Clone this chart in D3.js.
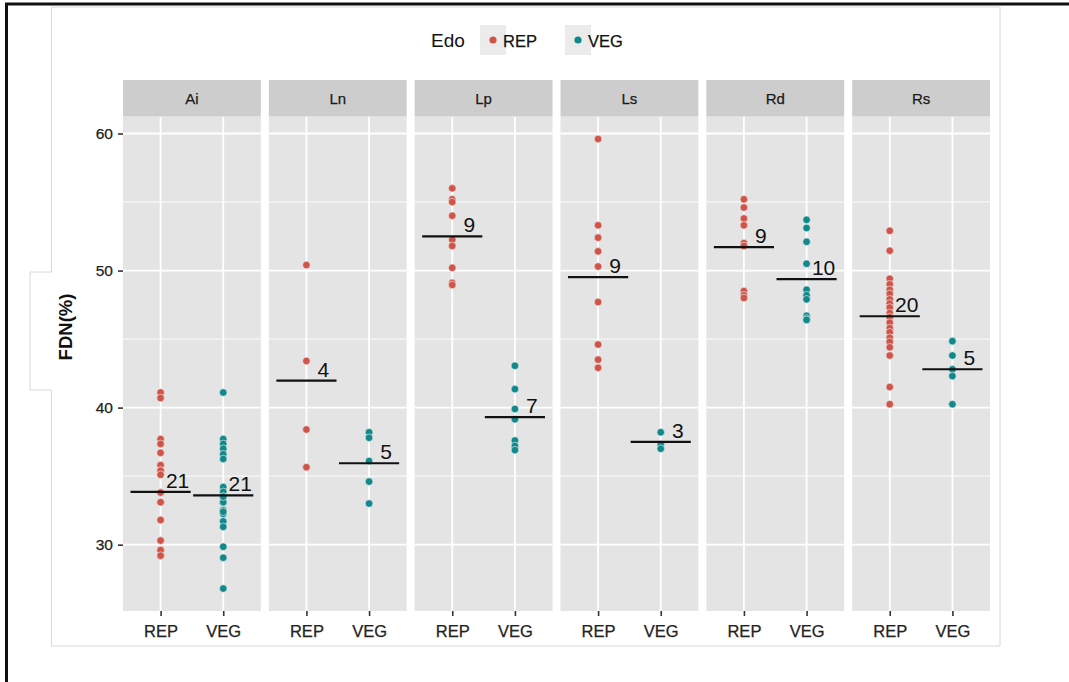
<!DOCTYPE html>
<html>
<head>
<meta charset="utf-8">
<script src="https://cdn.jsdelivr.net/npm/d3@7"></script>
<style>
body { margin: 0; background: #fff; }
svg { display: block; font-family: "Liberation Sans", Arial, sans-serif; }
</style>
</head>
<body>
<svg width="1069" height="682"></svg>
<script>
var facets = ["Ai", "Ln", "Lp", "Ls", "Rd", "Rs"];
var groups = ["REP", "VEG"];
var yTicks = [30, 40, 50, 60];
var yMinor = [35, 45, 55];

// FDN(%) per species and state
var aiREP = [41.1, 40.7, 37.7, 37.35, 36.7, 35.8, 35.4, 33.8, 33.1, 31.8, 30.3, 29.6, 29.2,
             33.8, 33.1, 31.8, 30.3, 29.6, 29.2, 35.4, 35.1];
var aiVEG = [41.1, 37.7, 37.35, 37.0, 36.6, 36.25, 34.2, 33.85, 33.5, 33.1, 32.5, 32.25, 31.7,
             31.3, 29.85, 29.05, 26.8, 33.1, 32.5, 33.5, 32.4];
var lnREP = [50.4, 43.4, 38.4, 35.65];
var lnVEG = [38.2, 37.8, 36.1, 34.6, 33.0];
var lpREP = [56.0, 55.2, 55.0, 54.0, 52.25, 51.8, 50.2, 49.1, 48.95];
var lpVEG = [43.05, 41.35, 39.9, 39.15, 37.6, 37.2, 36.9];
var lsREP = [59.6, 53.3, 52.4, 51.4, 50.3, 47.7, 44.6, 43.5, 42.9];
var lsVEG = [38.2, 37.3, 37.0];
var rdREP = [55.2, 54.6, 53.8, 53.3, 52.0, 51.8, 48.5, 48.2, 48.0];
var rdVEG = [53.7, 53.1, 52.1, 50.5, 48.6, 48.2, 47.9, 46.7, 46.5, 46.4];
var rsREP = [52.9, 51.45, 49.4, 49.0, 48.6, 48.3, 47.9, 47.6, 47.3, 46.9, 46.6, 46.2, 45.8,
             45.5, 45.1, 44.8, 44.4, 43.8, 41.5, 40.25];
var rsVEG = [44.85, 43.8, 42.8, 42.3, 40.25];

var colors = {REP: "#cf5449", VEG: "#11898b"};

var table = {
    Ai: [aiREP, aiVEG], Ln: [lnREP, lnVEG], Lp: [lpREP, lpVEG],
    Ls: [lsREP, lsVEG], Rd: [rdREP, rdVEG], Rs: [rsREP, rsVEG]
};

var rows = [];
facets.forEach(function(f) {
    groups.forEach(function(g, i) {
        table[f][i].forEach(function(v) {
            rows.push({facet: f, group: g, value: v});
        });
    });
});

var svg = d3.select("svg"),
    width = +svg.attr("width"),
    height = +svg.attr("height");

var panelTop = 116.5, panelBottom = 611, stripTop = 80;

// the scanned figure has slightly heavy type, thicken it a little
function heavy(sel, c) {
    sel.attr("fill", c).attr("stroke", c).attr("stroke-width", 0.25);
}

var fx = d3.scaleBand()
    .domain(facets)
    .range([123, 990])
    .paddingInner(48 / 875);

var x = d3.scalePoint()
    .domain(groups)
    .range([0, fx.bandwidth()])
    .padding(0.6);

var ext = d3.extent(rows, function(d) { return d.value; });
var pad = (ext[1] - ext[0]) * 0.05;
var y = d3.scaleLinear()
    .domain([ext[0] - pad, ext[1] + pad])
    .range([panelBottom, panelTop]);

svg.append("rect").attr("width", width).attr("height", height).attr("fill", "#fff");

// outer frame (top and left only)
svg.append("line").attr("x1", 5).attr("x2", width).attr("y1", 4).attr("y2", 4)
    .attr("stroke", "#111").attr("stroke-width", 3);
svg.append("line").attr("x1", 6.5).attr("x2", 6.5).attr("y1", 3).attr("y2", height)
    .attr("stroke", "#111").attr("stroke-width", 3);

// plot background box with the little tab for the y title
svg.append("path")
    .attr("d", "M51.5,272 V7 H1000 V646 H51.5 V390 H30 V272 Z")
    .attr("fill", "#fff")
    .attr("stroke", "#d8d8d8")
    .attr("stroke-width", 1);

// legend
var leg = svg.append("g");
leg.append("text").attr("x", 431).attr("y", 47).attr("font-size", 19).attr("fill", "#111").text("Edo");
var legX = {REP: 493, VEG: 578};
groups.forEach(function(g) {
    leg.append("rect").attr("x", legX[g] - 13).attr("y", 25).attr("width", 26).attr("height", 30)
        .attr("fill", "#ebebeb");
    leg.append("circle").attr("cx", legX[g]).attr("cy", 40).attr("r", 3.6).attr("fill", colors[g]);
    leg.append("text").attr("x", legX[g] + 10).attr("y", 46.5).attr("font-size", 16.5)
        .call(heavy, "#111").text(g);
});

var panel = svg.selectAll("g.panel")
    .data(facets)
    .enter().append("g")
    .attr("class", "panel")
    .attr("transform", function(d) { return "translate(" + fx(d) + ",0)"; });

panel.append("rect")
    .attr("y", panelTop)
    .attr("width", fx.bandwidth())
    .attr("height", panelBottom - panelTop)
    .attr("fill", "#e4e4e4");

panel.selectAll("line.minor")
    .data(yMinor)
    .enter().append("line")
    .attr("x2", fx.bandwidth())
    .attr("y1", function(d) { return y(d); })
    .attr("y2", function(d) { return y(d); })
    .attr("stroke", "#fff").attr("stroke-width", 0.9);

panel.selectAll("line.major")
    .data(yTicks)
    .enter().append("line")
    .attr("x2", fx.bandwidth())
    .attr("y1", function(d) { return y(d); })
    .attr("y2", function(d) { return y(d); })
    .attr("stroke", "#fff").attr("stroke-width", 1.8);

panel.selectAll("line.vgrid")
    .data(groups)
    .enter().append("line")
    .attr("x1", function(d) { return x(d); })
    .attr("x2", function(d) { return x(d); })
    .attr("y1", panelTop).attr("y2", panelBottom)
    .attr("stroke", "#fff").attr("stroke-width", 1.8);

// strips
panel.append("rect")
    .attr("y", stripTop)
    .attr("width", fx.bandwidth())
    .attr("height", panelTop - stripTop)
    .attr("fill", "#cdcdcd");
panel.append("text")
    .attr("x", fx.bandwidth() / 2)
    .attr("y", (stripTop + panelTop) / 2)
    .attr("dy", "0.36em")
    .attr("text-anchor", "middle")
    .attr("font-size", 15)
    .call(heavy, "#1a1a1a")
    .text(function(d) { return d; });

// points
panel.selectAll("circle")
    .data(function(f) { return rows.filter(function(r) { return r.facet == f; }); })
    .enter().append("circle")
    .attr("cx", function(d) { return x(d.group); })
    .attr("cy", function(d) { return y(d.value); })
    .attr("r", 3.8)
    .attr("fill", function(d) { return colors[d.group]; })
    .attr("stroke", "#f2f2f2")
    .attr("stroke-width", 0.6);

// mean bars with n labels
var half = x.step() * 0.48;
var stats = panel.selectAll("g.stat")
    .data(function(f) {
        return groups.map(function(g, i) {
            var vals = table[f][i];
            return {group: g, mean: d3.mean(vals), n: vals.length};
        });
    })
    .enter().append("g");
stats.append("line")
    .attr("x1", function(d) { return x(d.group) - half; })
    .attr("x2", function(d) { return x(d.group) + half; })
    .attr("y1", function(d) { return y(d.mean); })
    .attr("y2", function(d) { return y(d.mean); })
    .attr("stroke", "#111").attr("stroke-width", 2.2);
stats.append("text")
    .attr("x", function(d) { return x(d.group) + 17; })
    .attr("y", function(d) { return y(d.mean) - 4; })
    .attr("text-anchor", "middle")
    .attr("font-size", 21)
    .attr("fill", "#111")
    .text(function(d) { return d.n; });

// x axes
panel.append("g")
    .attr("transform", "translate(0," + panelBottom + ")")
    .call(d3.axisBottom(x).tickSize(5).tickPadding(9))
    .call(function(g) {
        g.select(".domain").remove();
        g.selectAll("line").attr("stroke", "#333").attr("stroke-width", 1.6);
        g.selectAll("text").attr("font-size", 16.5)
            .attr("font-family", "Liberation Sans, Arial, sans-serif")
            .call(heavy, "#222");
    });

// y axis
svg.append("g")
    .attr("transform", "translate(" + fx(facets[0]) + ",0)")
    .call(d3.axisLeft(y).tickValues(yTicks).tickSize(5).tickPadding(5))
    .call(function(g) {
        g.select(".domain").remove();
        g.selectAll("line").attr("stroke", "#333").attr("stroke-width", 1.6);
        g.selectAll("text").attr("font-size", 15.5)
            .attr("font-family", "Liberation Sans, Arial, sans-serif")
            .call(heavy, "#222");
    });

svg.append("text")
    .attr("transform", "translate(72,327) rotate(-90)")
    .attr("text-anchor", "middle")
    .attr("font-size", 18.5)
    .attr("font-weight", "bold")
    .attr("fill", "#111")
    .text("FDN(%)");
</script>
</body>
</html>
